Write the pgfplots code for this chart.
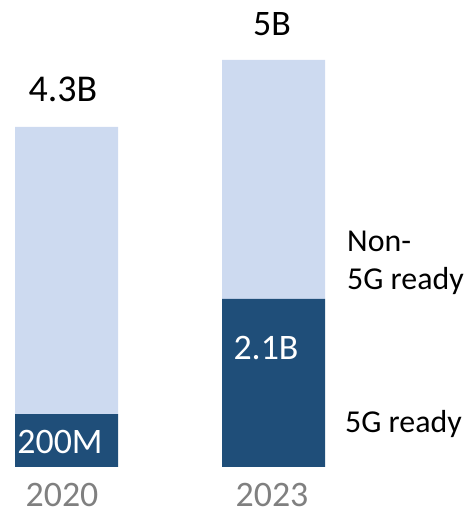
\documentclass[border=0pt]{standalone}
\usepackage{pgfplots}
\pgfplotsset{compat=1.18}
\usepackage{fontspec}
\setmainfont{Carlito}
\definecolor{lightbar}{HTML}{CDDAF0}
\definecolor{darkbar}{HTML}{1F4E79}
\definecolor{graytxt}{HTML}{808080}
\begin{document}
\begin{tikzpicture}
\begin{axis}[
  scale only axis, width=467bp, height=517bp,
  hide axis, clip=false,
  xmin=-0.32126, xmax=1.93478,
  ymin=-0.625, ymax=5.8375,
  ybar stacked, bar width=103bp,
]
\addplot[fill=darkbar, draw=none] coordinates {(0,0.66) (1,2.1)};
\addplot[fill=lightbar, draw=none] coordinates {(0,3.59) (1,2.99)};
\path (rel axis cs:0,0) (rel axis cs:1,1);
\coordinate (t1) at (rel axis cs:{63/467},{1-102/517});
\coordinate (t2) at (rel axis cs:{272/467},{1-36/517});
\coordinate (t3) at (rel axis cs:{60/467},{1-454/517});
\coordinate (t4) at (rel axis cs:{266/467},{1-360/517});
\coordinate (t5) at (rel axis cs:{62/467},{1-507/517});
\coordinate (t6) at (rel axis cs:{272/467},{1-507/517});
\coordinate (t7) at (rel axis cs:{347/467},{1-252/517});
\coordinate (t8) at (rel axis cs:{347/467},{1-290/517});
\coordinate (t9) at (rel axis cs:{345/467},{1-433/517});
\end{axis}
\begin{scope}[every node/.style={inner sep=0pt}]
\node[anchor=base, font=\fontsize{38}{44}\selectfont] at (t1) {4.3B};
\node[anchor=base, font=\fontsize{36}{44}\selectfont] at (t2) {5B};
\node[anchor=base, text=white, font=\fontsize{36}{44}\selectfont] at (t3) {200M};
\node[anchor=base, text=white, font=\fontsize{36}{44}\selectfont] at (t4) {2.1B};
\node[anchor=base, text=graytxt, font=\fontsize{36}{44}\selectfont] at (t5) {2020};
\node[anchor=base, text=graytxt, font=\fontsize{36}{44}\selectfont] at (t6) {2023};
\node[anchor=base west, font=\fontsize{32}{36}\selectfont] at (t7) {Non-};
\node[anchor=base west, font=\fontsize{32}{36}\selectfont] at (t8) {5G ready};
\node[anchor=base west, font=\fontsize{32}{36}\selectfont] at (t9) {5G ready};
\end{scope}
\end{tikzpicture}
\end{document}
